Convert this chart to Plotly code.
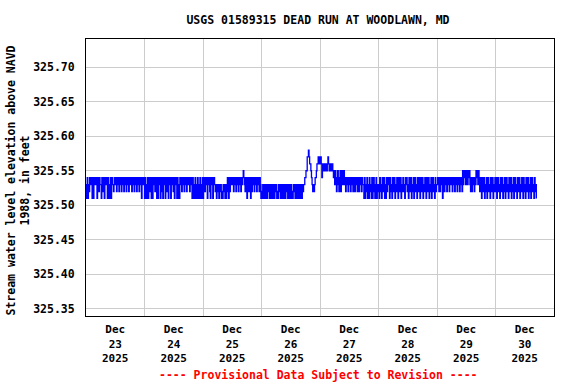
import plotly.graph_objects as go
import pandas as pd

# 15-minute gage height readings, digit d -> 325.50 + d*0.01 ft
dec23 = ("314132434314134343143243" "314324143431413141343234"
         "342343243423432434234324" "343243424342343243414343")
dec24 = ("141314134241413432431413" "431424134314243143414342"
         "413431413143424342343243" "342434141314131413141314")
dec25 = ("134243414342143413432313" "231323121323131243142434"
         "342434243424342434543242" "144243142434243424342431")
dec26 = ("213123132132312313213132" "312132313213123132312313"
         "312132313213123132132334" "455778766543232344566767")
dec27 = ("676456565565676565656545" "354245324524534534243423"
         "432434243243424324342433" "141324131423141342134132")
dec28 = ("314231432413142343142314" "234132431423413243214342"
         "314324132413423143241342" "413243142341324134231423")
dec29 = ("343242343143243423432434" "324342434234324342535453"
         "543545324243424354535424" "314234132413423143241324")
dec30 = ("241342314324132413423142" "341324134231432413243142"
         "31423413241342314231")

day_strings = [dec23, dec24, dec25, dec26, dec27, dec28, dec29, dec30]
digits = "".join(day_strings)
values = [round(325.50 + int(c) * 0.01, 2) for c in digits]
times = pd.date_range("2025-12-23 00:00", periods=len(values), freq="15min")

tick_dates = ["2025-12-23 12:00", "2025-12-24 12:00", "2025-12-25 12:00",
              "2025-12-26 12:00", "2025-12-27 12:00", "2025-12-28 12:00",
              "2025-12-29 12:00", "2025-12-30 12:00"]
tick_labels = ["Dec<br>23<br>2025", "Dec<br>24<br>2025", "Dec<br>25<br>2025",
               "Dec<br>26<br>2025", "Dec<br>27<br>2025", "Dec<br>28<br>2025",
               "Dec<br>29<br>2025", "Dec<br>30<br>2025"]
grid_dates = ["2025-12-24", "2025-12-25", "2025-12-26", "2025-12-27",
              "2025-12-28", "2025-12-29", "2025-12-30"]
y_ticks = [325.35, 325.40, 325.45, 325.50, 325.55, 325.60, 325.65, 325.70]
y_tick_labels = ["325.35", "325.40", "325.45", "325.50", "325.55",
                 "325.60", "325.65", "325.70"]

FONT = "DejaVu Sans Mono"
W, H = 576, 384
ML, MR, MT, MB = 86, 22, 39, 68

fig = go.Figure()
fig.add_trace(go.Scatter(x=times, y=values, mode="lines",
                         line=dict(color="#0000ff", width=1.3, shape="hv",
                                   simplify=False),
                         hoverinfo="skip", showlegend=False))

fig.update_layout(
    width=W, height=H,
    margin=dict(l=ML, r=MR, t=MT, b=MB, autoexpand=False),
    paper_bgcolor="white", plot_bgcolor="white",
    font=dict(family=FONT, size=11.5, color="black", weight="bold"),
    title=dict(text="USGS 01589315 DEAD RUN AT WOODLAWN, MD",
               x=318 / W, xanchor="center",
               y=1 - 20 / H, yanchor="middle",
               font=dict(family=FONT, size=11.5, color="black", weight="bold")),
    showlegend=False,
)

fig.update_xaxes(
    type="date",
    range=["2025-12-23 00:00", "2025-12-31 00:00"],
    tickmode="array", tickvals=tick_dates, ticktext=tick_labels,
    showgrid=False, ticks="", zeroline=False,
    minor=dict(tickmode="array", tickvals=grid_dates, showgrid=True,
               gridcolor="#cccccc", gridwidth=1, ticks=""),
    showline=True, linecolor="black", linewidth=1, mirror=True,
    tickfont=dict(family=FONT, size=11, color="black", weight="bold"),
    ticklabelstandoff=3,
)
fig.update_yaxes(
    range=[325.3398, 325.7407],
    tickmode="array", tickvals=y_ticks, ticktext=y_tick_labels,
    showgrid=True, gridcolor="#cccccc", gridwidth=1, zeroline=False,
    ticks="", showline=True, linecolor="black", linewidth=1, mirror=True,
    tickfont=dict(family=FONT, size=11.5, color="black", weight="bold"),
    ticklabelstandoff=8,
)

plot_w = W - ML - MR
plot_h = H - MT - MB
fig.add_annotation(
    text="Stream water level elevation above NAVD<br>1988, in feet",
    xref="paper", yref="paper", x=(17.5 - ML) / plot_w,
    y=(H - MB - 181) / plot_h,
    xanchor="center", yanchor="middle", textangle=-90, showarrow=False,
    font=dict(family=FONT, size=11.5, color="black", weight="bold"),
)
fig.add_annotation(
    text="---- Provisional Data Subject to Revision ----",
    xref="paper", yref="paper", x=(318 - ML) / plot_w,
    y=-(375 - (H - MB)) / plot_h,
    xanchor="center", yanchor="middle", showarrow=False,
    font=dict(family=FONT, size=11.5, color="#ff0000", weight="bold"),
)

fig.write_html(
    "out.html",
    config={"displayModeBar": False, "staticPlot": True},
    post_script="document.body.style.margin='0px';"
                "document.body.style.overflow='hidden';",
)
